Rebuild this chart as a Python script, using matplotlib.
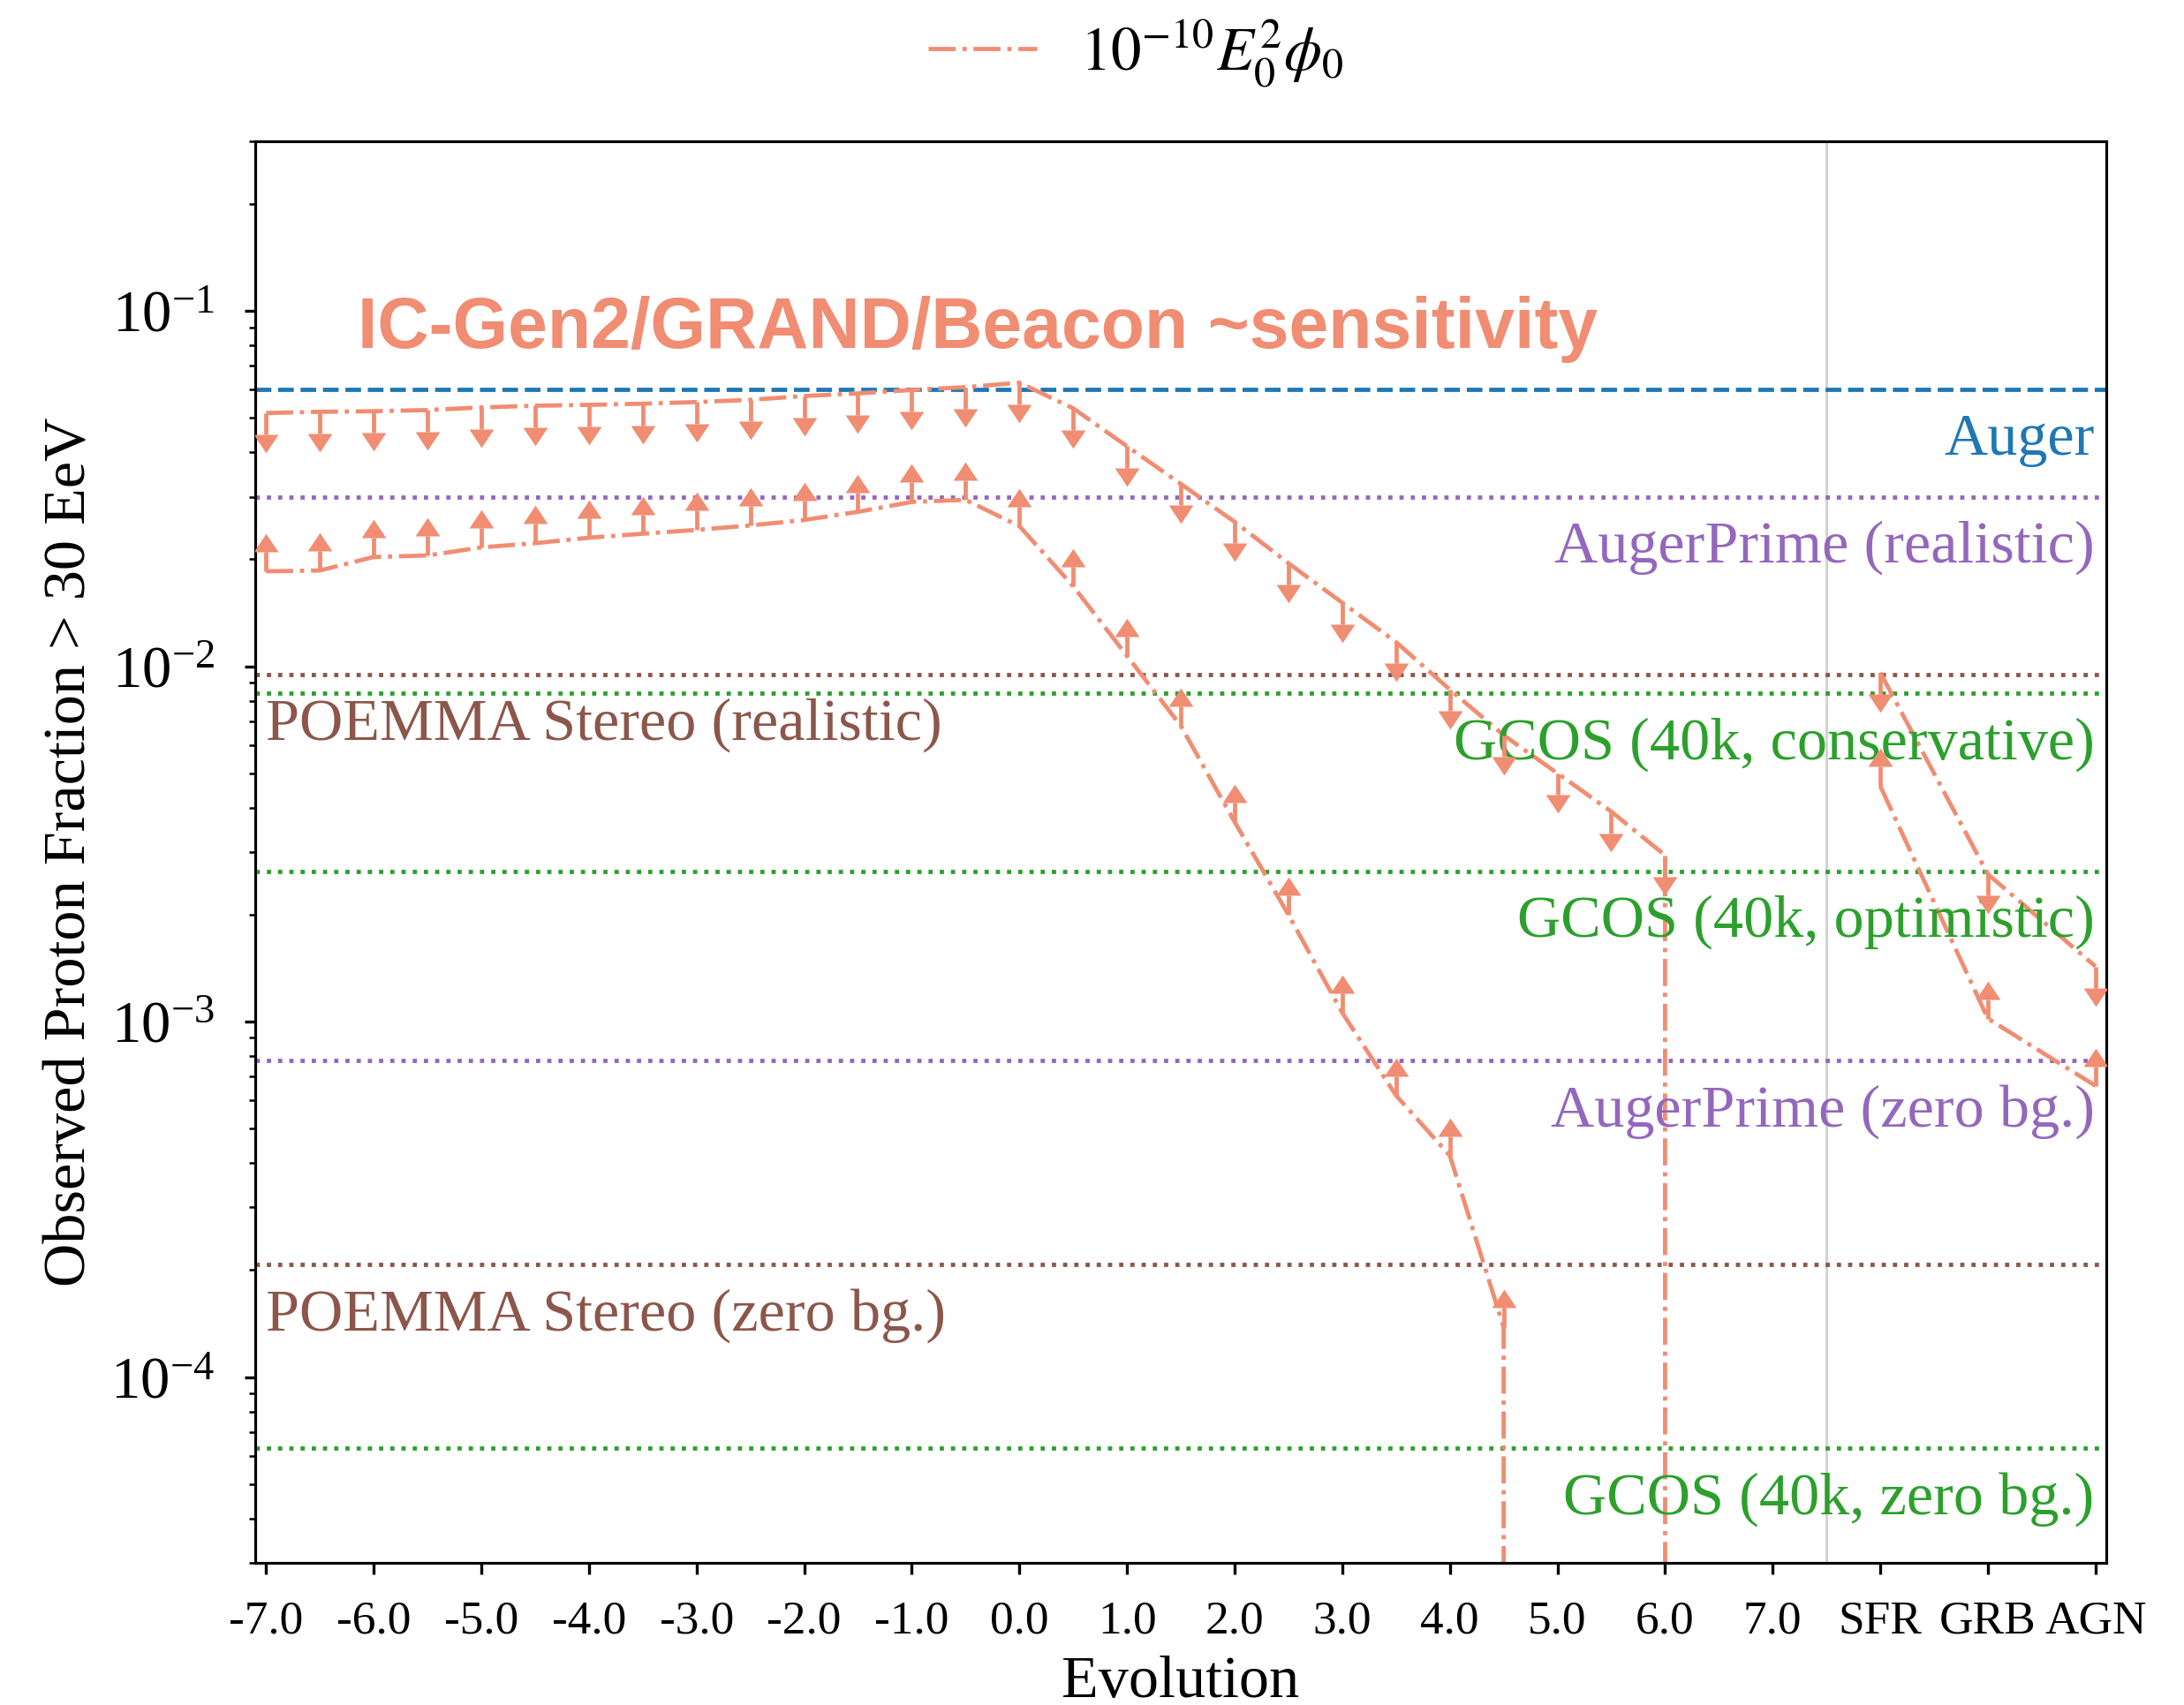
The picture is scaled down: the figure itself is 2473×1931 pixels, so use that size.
import numpy as np
import matplotlib
matplotlib.use("Agg")
import matplotlib.pyplot as plt

# --- DATA ---
evolution = [-7.0, -6.5, -6.0, -5.5, -5.0, -4.5, -4.0, -3.5, -3.0, -2.5,
             -2.0, -1.5, -1.0, -0.5, 0.0, 0.5, 1.0, 1.5, 2.0, 2.5,
             3.0, 3.5, 4.0, 4.5, 5.0, 5.5, 6.0, 6.5, 7.0]

# upper limits (arrows down) and lower limits (arrows up); 0 = no flux
upper_frac = [0.0516, 0.0520, 0.0522, 0.0526, 0.0535, 0.0541, 0.0544, 0.0548,
              0.0554, 0.0562, 0.0576, 0.0586, 0.0599, 0.0610, 0.0628, 0.0532,
              0.0416, 0.0326, 0.0255, 0.0195, 0.0151, 0.0117, 0.0086, 0.0064,
              0.0050, 0.0039, 0.00294, 0.0, 0.0]
lower_frac = [0.0185, 0.0186, 0.0203, 0.0205, 0.0216, 0.0222, 0.0230, 0.0236,
              0.0242, 0.0249, 0.0258, 0.0272, 0.0290, 0.0294, 0.0248, 0.0168,
              0.0107, 0.0068, 0.00365, 0.0020, 0.00106, 0.00062, 0.00042,
              0.000138, 0.0, 0.0, 0.0, 0.0, 0.0]

source_names = ["SFR", "GRB", "AGN"]
source_pos = [8, 9, 10]
source_upper = [0.0096, 0.0026, 0.00143]
source_lower = [0.0046, 0.00102, 0.00066]

exp_names = ["Auger", "AugerPrime (realistic)", "POEMMA Stereo (realistic)",
             "GCOS (40k, conservative)", "GCOS (40k, optimistic)",
             "AugerPrime (zero bg.)", "POEMMA Stereo (zero bg.)",
             "GCOS (40k, zero bg.)"]
exp_levels = [0.060, 0.030, 0.0095, 0.00838, 0.00265, 7.76e-4, 2.07e-4, 6.3e-5]

# --- STYLE ---
DPI = 300
SALMON = "#F08D72"
LW = 1.15
fam_color = {"Auger": "tab:blue", "AugerPrime": "tab:purple",
             "POEMMA": "tab:brown", "GCOS": "tab:green"}
LABEL_SHIFT = 0.655     # label baseline sits this factor below its line
STEM_DOWN, STEM_UP = 0.87, 1.134
HEAD_DOWN = [(-1, 0), (1, 0), (0, -1.5)]
HEAD_UP = [(-1, 0), (1, 0), (0, 1.5)]
HEAD_MS = 10

plt.rcParams['font.family'] = ['Liberation Serif', 'DejaVu Serif']
plt.rcParams['mathtext.fontset'] = 'stix'
plt.rcParams['font.size'] = 16.4


def limit_arrows(ax, x, y, direction):
    x = np.asarray(x, float)
    y = np.asarray(y, float)
    keep = y > 0
    x, y = x[keep], y[keep]
    end = y * (STEM_DOWN if direction == "down" else STEM_UP)
    ax.vlines(x, y, end, color=SALMON, lw=LW, zorder=3)
    head = HEAD_DOWN if direction == "down" else HEAD_UP
    ax.plot(x, end, ls="none", marker=head, ms=HEAD_MS, mew=0,
            color=SALMON, zorder=3)


fig = plt.figure(figsize=(2473 / DPI, 1931 / DPI), dpi=DPI)
ax = fig.add_axes([0.1169, 0.0834, 0.8475, 0.8337])
ax.set_yscale("log", nonpositive="clip")

# experiment sensitivity lines + labels
for name, lev in zip(exp_names, exp_levels):
    fam = name.split()[0]
    ls = "--" if name == "Auger" else ":"
    ax.axhline(lev, color=fam_color[fam], ls=ls, lw=LW, zorder=1)
    if fam == "POEMMA":
        ax.text(-7.0, lev * LABEL_SHIFT, name, color=fam_color[fam],
                ha="left", va="baseline")
    else:
        ax.text(9.99, lev * LABEL_SHIFT, name, color=fam_color[fam],
                ha="right", va="baseline")

ax.axvline(7.5, color="lightgray", lw=0.7, zorder=0)

# evolution curves
up_line, = ax.plot(evolution, upper_frac, ls="-.", color=SALMON, lw=LW, zorder=2)
ax.plot(evolution, lower_frac, ls="-.", color=SALMON, lw=LW, zorder=2)
limit_arrows(ax, evolution, upper_frac, "down")
limit_arrows(ax, evolution, lower_frac, "up")

# source-class evolutions
ax.plot(source_pos, source_upper, ls="-.", color=SALMON, lw=LW, zorder=2)
ax.plot(source_pos, source_lower, ls="-.", color=SALMON, lw=LW, zorder=2)
limit_arrows(ax, source_pos, source_upper, "down")
limit_arrows(ax, source_pos, source_lower, "up")

ax.text(-6.15, 0.0786, "IC-Gen2/GRAND/Beacon ~sensitivity", color=SALMON,
        fontsize=19.35, fontweight="bold", family=["Liberation Sans", "DejaVu Sans"],
        ha="left", va="baseline")

# axes
ax.set_xlim(-7.1, 10.1)
ax.set_ylim(3e-5, 0.3)
ticks = [v for v in evolution if v == int(v)] + source_pos
ticklabels = [f"{v:.1f}" for v in evolution if v == int(v)] + source_names
ax.set_xticks(ticks)
ax.set_xticklabels(ticklabels)
ax.tick_params(axis="x", labelsize=12.8, length=3.0, pad=7.3)
ax.tick_params(axis="y", which="major", labelsize=16, length=3.0, pad=8)
ax.tick_params(axis="y", which="minor", length=1.7)
ax.tick_params(which="both", top=False, right=False)
for sp in ax.spines.values():
    sp.set_linewidth(0.75)

ax.set_xlabel("Evolution")
ax.set_ylabel("Observed Proton Fraction > 30 EeV")
ax.xaxis.set_label_coords(0.5, -0.0652)
ax.yaxis.set_label_coords(-0.0854, 0.5)

fig.legend(handles=[up_line], labels=[r"$10^{-10}E_0^2\phi_0$"], loc="center",
           bbox_to_anchor=(0.52, 0.969), frameon=False, fontsize=16.5,
           handlelength=1.8, handletextpad=0.7)

fig.savefig("out.png", dpi=DPI)
